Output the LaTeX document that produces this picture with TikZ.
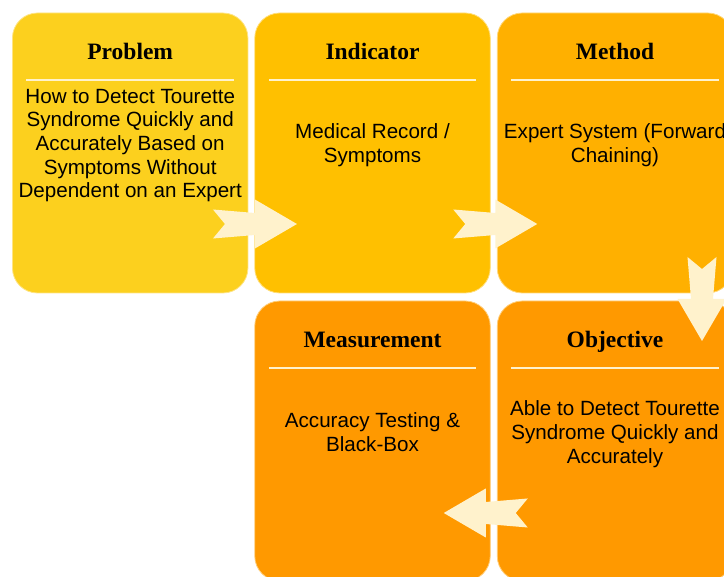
\documentclass[tikz,border=0pt]{standalone}
\usepackage{fontspec}
\setmainfont{Liberation Serif}
\setsansfont{Liberation Sans}
\usetikzlibrary{calc}

\definecolor{cProblem}{RGB}{252,208,30}
\definecolor{cIndicator}{RGB}{255,192,0}
\definecolor{cMethod}{RGB}{255,176,0}
\definecolor{cGoal}{RGB}{255,153,0}
\definecolor{cream}{RGB}{255,242,204}

\begin{document}
\begin{tikzpicture}[x=1pt,y=-1pt,
  card/.style={rounded corners=25pt, minimum width=235.5pt, minimum height=280pt,
    inner sep=0pt, outer sep=0pt, draw=cream!60!#1, line width=0.8pt, fill=#1},
  heading/.style={anchor=base, font=\bfseries\fontsize{23.5}{28}\selectfont},
  body/.style={align=center, font=\sffamily\fontsize{20.6}{23.7}\selectfont, inner sep=0pt},
  rule/.style={draw=cream, line width=1.2pt},
  blockarrow/.pic={
    \fill[cream] (0,-14.5) -- (42,-11) -- (42,-24.5) -- (84,0) -- (42,24.5)
      -- (42,11) -- (0,14.5) -- (12,0) -- cycle;
  }
]
\useasboundingbox (0,0) rectangle (724,577);
\clip (0,0) rectangle (724,577);

% cards
\node[card=cProblem]   (problem)   at (130.2,153) {};
\node[card=cIndicator] (indicator) at (372.5,153) {};
\node[card=cMethod]    (method)    at (615,153)   {};
\node[card=cGoal]      (measure)   at (372.5,441) {};
\node[card=cGoal]      (objective) at (615,441)   {};

% headings and divider rules
\foreach \c/\t in {problem/Problem, indicator/Indicator, method/Method,
                   measure/Measurement, objective/Objective}{
  \node[heading] (\c-title) at ($(\c.north)+(0,47)$) {\t};
  \draw[rule] ($(\c.north west)+(14,67)$) -- ($(\c.north east)+(-14,67)$);
}

% card contents
\node[body] (problem-text) at ($(problem.center)+(0,-7.5)$)
  {How to Detect Tourette\\Syndrome Quickly and\\Accurately Based on\\Symptoms Without\\Dependent on an Expert};
\node[body] (indicator-text) at ($(indicator.center)+(0,-8)$)
  {Medical Record /\\Symptoms};
\node[body] (method-text) at ($(method.center)+(0,-8)$)
  {Expert System (Forward\\Chaining)};
\node[body] (measure-text) at ($(measure.center)+(0,-9)$)
  {Accuracy Testing \&\\Black-Box};
\node[body] (objective-text) at ($(objective.center)+(0,-7)$)
  {Able to Detect Tourette\\Syndrome Quickly and\\Accurately};

% flow arrows
\pic at ($(problem.east)+(-35,71)$) {blockarrow};
\pic at ($(indicator.east)+(-37,71)$) {blockarrow};
\pic[rotate=-90] at ($(method.south)+(87,-36)$) {blockarrow};
\pic[rotate=180] at ($(objective.west)+(30.5,72)$) {blockarrow};
\end{tikzpicture}
\end{document}
